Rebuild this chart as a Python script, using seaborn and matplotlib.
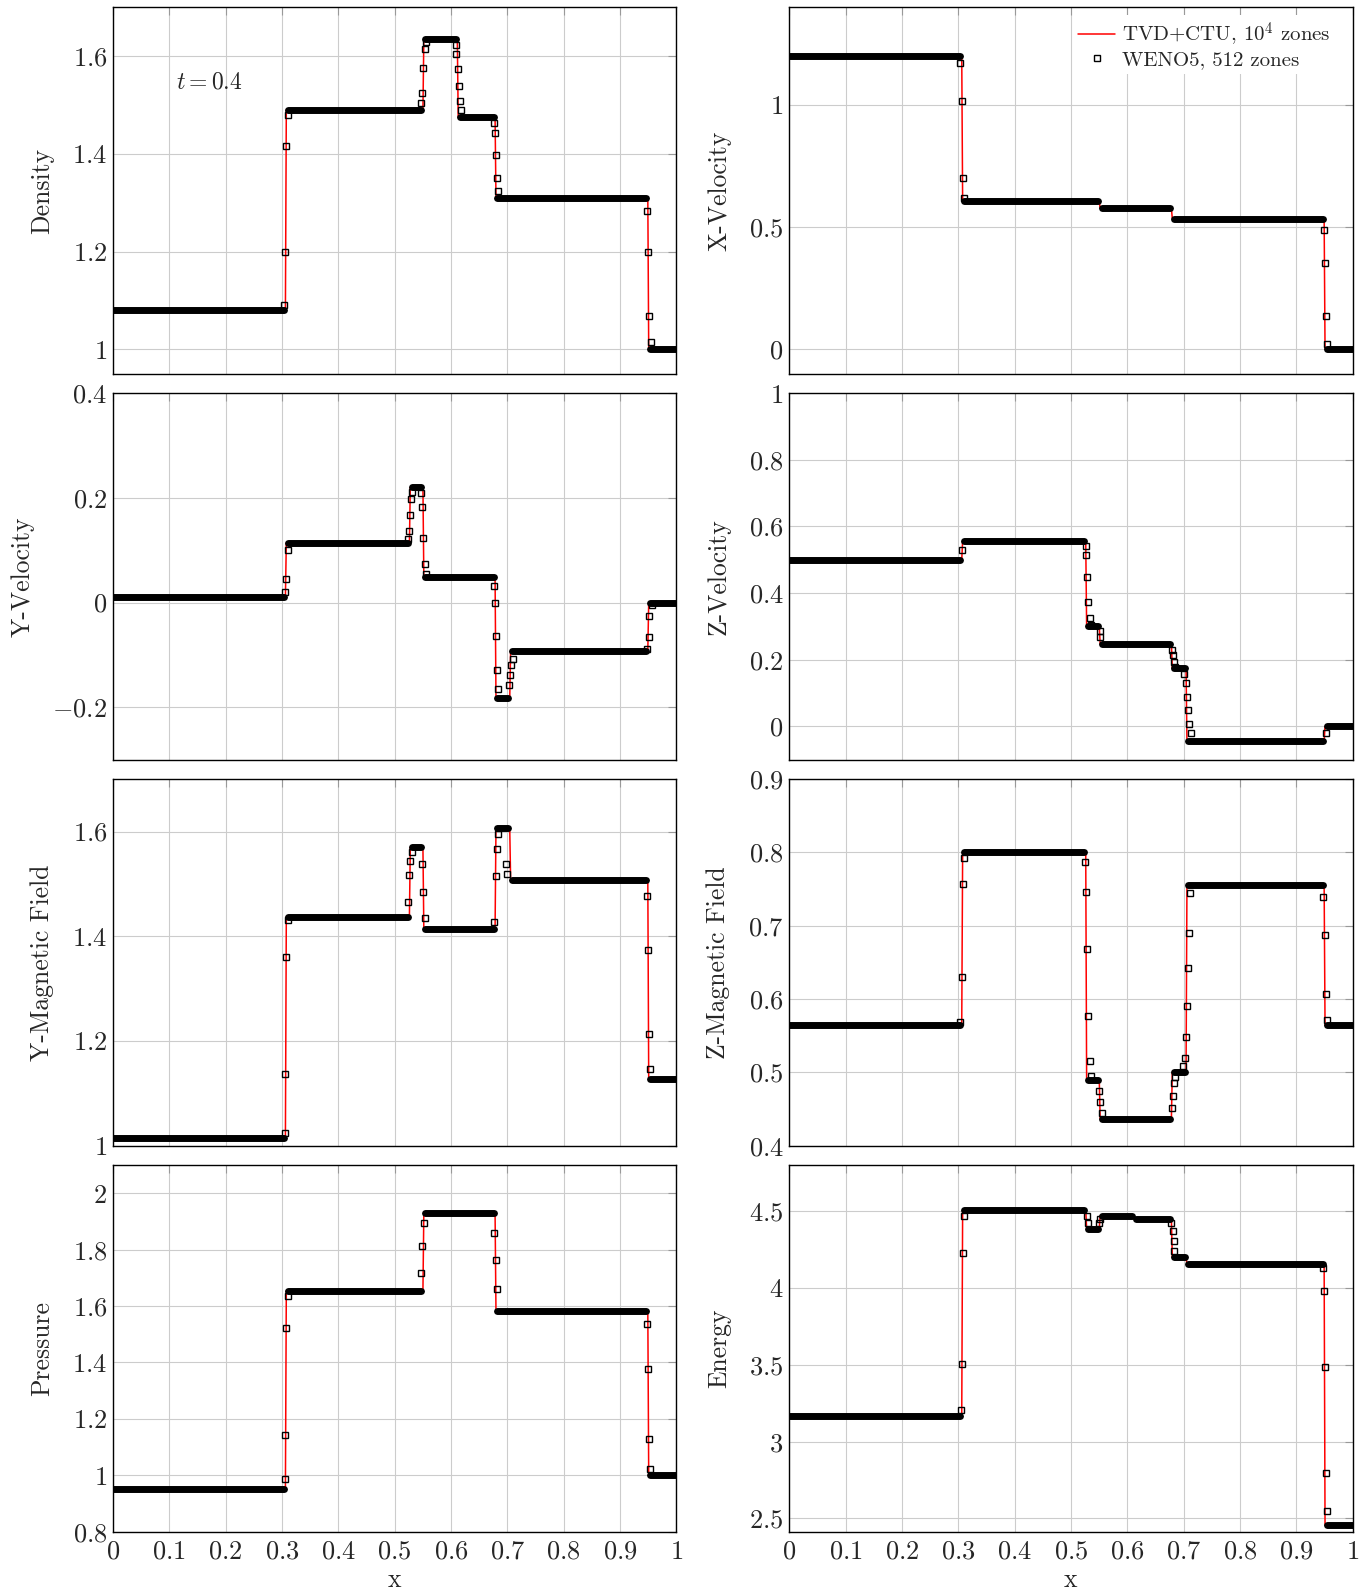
import numpy as np
import matplotlib
matplotlib.use('Agg')
import matplotlib.pyplot as plt
import seaborn as sns
from matplotlib.lines import Line2D
from matplotlib.ticker import FuncFormatter, MultipleLocator

# positions of the seven waves at t = 0.4 (fast, rot, slow, contact, slow, rot, fast)
waves = [0.307, 0.527, 0.551, 0.612, 0.679, 0.705, 0.95]

# constant states between the waves (TVD+CTU reference)
dens = [1.08, 1.49, 1.49, 1.635, 1.475, 1.31, 1.31, 1.0]
velx = [1.2, 0.605, 0.605, 0.577, 0.577, 0.535, 0.535, 0.0]
vely = [0.01, 0.114, 0.22, 0.048, 0.048, -0.183, -0.092, 0.0]
velz = [0.5, 0.556, 0.30, 0.248, 0.248, 0.175, -0.045, 0.0]
magy = [1.0155, 1.437, 1.57, 1.413, 1.413, 1.607, 1.507, 1.128]
magz = [0.564, 0.80, 0.49, 0.437, 0.437, 0.50, 0.755, 0.564]
pres = [0.95, 1.654, 1.654, 1.93, 1.93, 1.582, 1.582, 1.0]
ener = [3.17, 4.51, 4.387, 4.47, 4.447, 4.20, 4.155, 2.455]

# WENO5 points that sit inside the jumps
dens_mx = [0.304, 0.306, 0.308, 0.310,
           0.547, 0.549, 0.551, 0.553, 0.556,
           0.608, 0.609, 0.612, 0.614, 0.616, 0.617,
           0.676, 0.678, 0.680, 0.681, 0.684,
           0.948, 0.950, 0.952, 0.954]
dens_my = [1.09, 1.20, 1.415, 1.48,
           1.503, 1.525, 1.575, 1.615, 1.629,
           1.622, 1.605, 1.574, 1.539, 1.507, 1.489,
           1.464, 1.442, 1.397, 1.35, 1.323,
           1.283, 1.20, 1.069, 1.015]

velx_mx = [0.304, 0.306, 0.308, 0.310, 0.949, 0.951, 0.953, 0.955]
velx_my = [1.17, 1.015, 0.70, 0.62, 0.49, 0.355, 0.137, 0.02]

vely_mx = [0.306, 0.308, 0.310,
           0.5236, 0.526, 0.5278, 0.5296, 0.5314,
           0.547, 0.549, 0.551, 0.553, 0.556,
           0.676, 0.678, 0.680, 0.681, 0.684,
           0.7027, 0.7044, 0.7069, 0.7098,
           0.948, 0.951, 0.952, 0.956]
vely_my = [0.02, 0.045, 0.10,
           0.121, 0.136, 0.1675, 0.198, 0.212,
           0.210, 0.183, 0.124, 0.073, 0.055,
           0.031, -0.001, -0.063, -0.129, -0.165,
           -0.157, -0.139, -0.120, -0.108,
           -0.088, -0.065, -0.025, -0.004]

velz_mx = [0.307,
           0.5258, 0.5275, 0.5293, 0.5311, 0.5334, 0.5364, 0.5511, 0.5523,
           0.6785, 0.6803, 0.6826, 0.6844, 0.7009, 0.7034, 0.7052, 0.7069, 0.7092, 0.7122,
           0.952]
velz_my = [0.53,
           0.5416, 0.514, 0.447, 0.373, 0.325, 0.303, 0.285, 0.268,
           0.2286, 0.2138, 0.1938, 0.1788, 0.156, 0.131, 0.089, 0.048, 0.008, -0.020,
           -0.02]

magy_mx = [0.305, 0.306, 0.308, 0.310,
           0.523, 0.526, 0.528, 0.531,
           0.548, 0.550, 0.553,
           0.677, 0.679, 0.681, 0.684, 0.697, 0.700,
           0.947, 0.949, 0.951, 0.953]
magy_my = [1.025, 1.136, 1.361, 1.431,
           1.466, 1.517, 1.544, 1.561,
           1.538, 1.485, 1.435,
           1.427, 1.515, 1.567, 1.596, 1.538, 1.518,
           1.476, 1.373, 1.214, 1.146]

magz_mx = [0.304, 0.306, 0.308, 0.310,
           0.525, 0.527, 0.529, 0.531, 0.5334, 0.5352, 0.5499, 0.5517, 0.5542,
           0.6796, 0.6814, 0.6831, 0.6849, 0.6991, 0.7016, 0.7039,
           0.706, 0.708, 0.710, 0.712,
           0.948, 0.950, 0.952, 0.954]
magz_my = [0.569, 0.630, 0.757, 0.792,
           0.7876, 0.746, 0.668, 0.5765, 0.516, 0.495, 0.475, 0.459, 0.444,
           0.451, 0.468, 0.485, 0.494, 0.509, 0.520, 0.548,
           0.59, 0.643, 0.69, 0.745,
           0.739, 0.6875, 0.607, 0.572]

pres_mx = [0.305, 0.306, 0.308, 0.310,
           0.547, 0.549, 0.552,
           0.677, 0.679, 0.681,
           0.947, 0.949, 0.951, 0.953]
pres_my = [0.987, 1.142, 1.521, 1.636,
           1.719, 1.813, 1.895,
           1.859, 1.762, 1.661,
           1.535, 1.377, 1.128, 1.023]

ener_mx = [0.305, 0.306, 0.308, 0.310,
           0.528, 0.530, 0.549, 0.551,
           0.6778, 0.6803, 0.6821, 0.6831,
           0.947, 0.949, 0.951, 0.953, 0.955]
ener_my = [3.209, 3.507, 4.228, 4.467,
           4.47, 4.42, 4.42, 4.45,
           4.422, 4.374, 4.307, 4.242,
           4.129, 3.983, 3.487, 2.798, 2.546]


def step_line(states, d=0.0008):
    xs, ys = [0.0], [states[0]]
    for w, a, b in zip(waves, states[:-1], states[1:]):
        xs += [w - d, w + d]
        ys += [a, b]
    xs.append(1.0)
    ys.append(states[-1])
    return xs, ys


def plateaus(states, gap=0.0035):
    # merge neighbouring equal states, return one segment per plateau
    edges = [0.0] + waves + [1.0]
    segs = []
    i = 0
    while i < len(states):
        j = i
        while j + 1 < len(states) and abs(states[j + 1] - states[i]) < 1e-9:
            j += 1
        x0 = edges[i] + gap if i > 0 else -0.01
        x1 = edges[j + 1] - gap if j + 1 < len(states) else 1.01
        segs.append(([x0, x1], [states[i], states[i]]))
        i = j + 1
    return segs


def draw_panel(ax, states, mx, my):
    xs, ys = step_line(states)
    sns.lineplot(x=xs, y=ys, sort=False, estimator=None, color='red',
                 lw=1.1, ax=ax, zorder=2)
    for sx, sy in plateaus(states):
        ax.plot(sx, sy, color='black', lw=5, solid_capstyle='round', zorder=3)
    ax.plot(mx, my, ls='none', marker='s', ms=4.5, mfc='none', mec='black',
            mew=1.0, zorder=4)


sns.set_theme(style='whitegrid')
plt.rcParams['font.family'] = ['cmr10', 'DejaVu Serif']
plt.rcParams['mathtext.fontset'] = 'cm'
plt.rcParams['axes.unicode_minus'] = False

fig, axes = plt.subplots(4, 2, figsize=(13.71, 15.94), dpi=100)
fig.subplots_adjust(left=0.0823, right=0.9867, bottom=0.0391, top=0.9955,
                    wspace=0.2, hspace=0.053)

panels = [
    ('Density', dens, dens_mx, dens_my, (0.95, 1.7), 0.2),
    ('X-Velocity', velx, velx_mx, velx_my, (-0.1, 1.4), 0.5),
    ('Y-Velocity', vely, vely_mx, vely_my, (-0.3, 0.4), 0.2),
    ('Z-Velocity', velz, velz_mx, velz_my, (-0.1, 1.0), 0.2),
    ('Y-Magnetic Field', magy, magy_mx, magy_my, (1.0, 1.7), 0.2),
    ('Z-Magnetic Field', magz, magz_mx, magz_my, (0.4, 0.9), 0.1),
    ('Pressure', pres, pres_mx, pres_my, (0.8, 2.1), 0.2),
    ('Energy', ener, ener_mx, ener_my, (2.414, 4.8), 0.5),
]

fmt = FuncFormatter(lambda v, p: '$%g$' % (0 if abs(v) < 1e-9 else v))

for ax, (label, states, mx, my, ylim, step) in zip(axes.flatten(), panels):
    draw_panel(ax, states, mx, my)
    ax.set_xlim(0, 1)
    ax.set_ylim(*ylim)
    ax.xaxis.set_major_locator(MultipleLocator(0.1))
    ax.yaxis.set_major_locator(MultipleLocator(step))
    ax.xaxis.set_major_formatter(fmt)
    ax.yaxis.set_major_formatter(fmt)
    ax.grid(True, color='#cccccc', lw=0.8)
    ax.tick_params(direction='in', length=6, width=0.8, color='#999999',
                   top=True, right=True, labelsize=19, pad=4)
    ax.tick_params(axis='x', pad=6)
    for s in ax.spines.values():
        s.set_color('black')
        s.set_linewidth(1.0)
    ax.set_ylabel(label, fontsize=18.5, labelpad=13)
    ax.set_xlabel('')

for ax in axes[:-1, :].flatten():
    ax.tick_params(labelbottom=False)
for ax in axes[-1, :]:
    ax.set_xlabel('x', fontsize=18.5, labelpad=3)

axes[0, 0].text(0.172, 1.547, r'$t = 0.4$', fontsize=17, ha='center', va='center')

handles = [Line2D([], [], color='red', lw=1.1),
           Line2D([], [], ls='none', marker='s', ms=4.5, mfc='none',
                  mec='black', mew=1.0)]
leg = axes[0, 1].legend(handles, [r'TVD+CTU, $10^4$ zones', 'WENO5, 512 zones'],
                        loc='upper right', bbox_to_anchor=(0.97, 0.978),
                        fontsize=15, frameon=True,
                        facecolor='white', edgecolor='none', framealpha=1,
                        borderaxespad=0.0, handlelength=1.75, handletextpad=0.35,
                        labelspacing=0.1, borderpad=0.25)

fig.savefig('out.png', dpi=100)
